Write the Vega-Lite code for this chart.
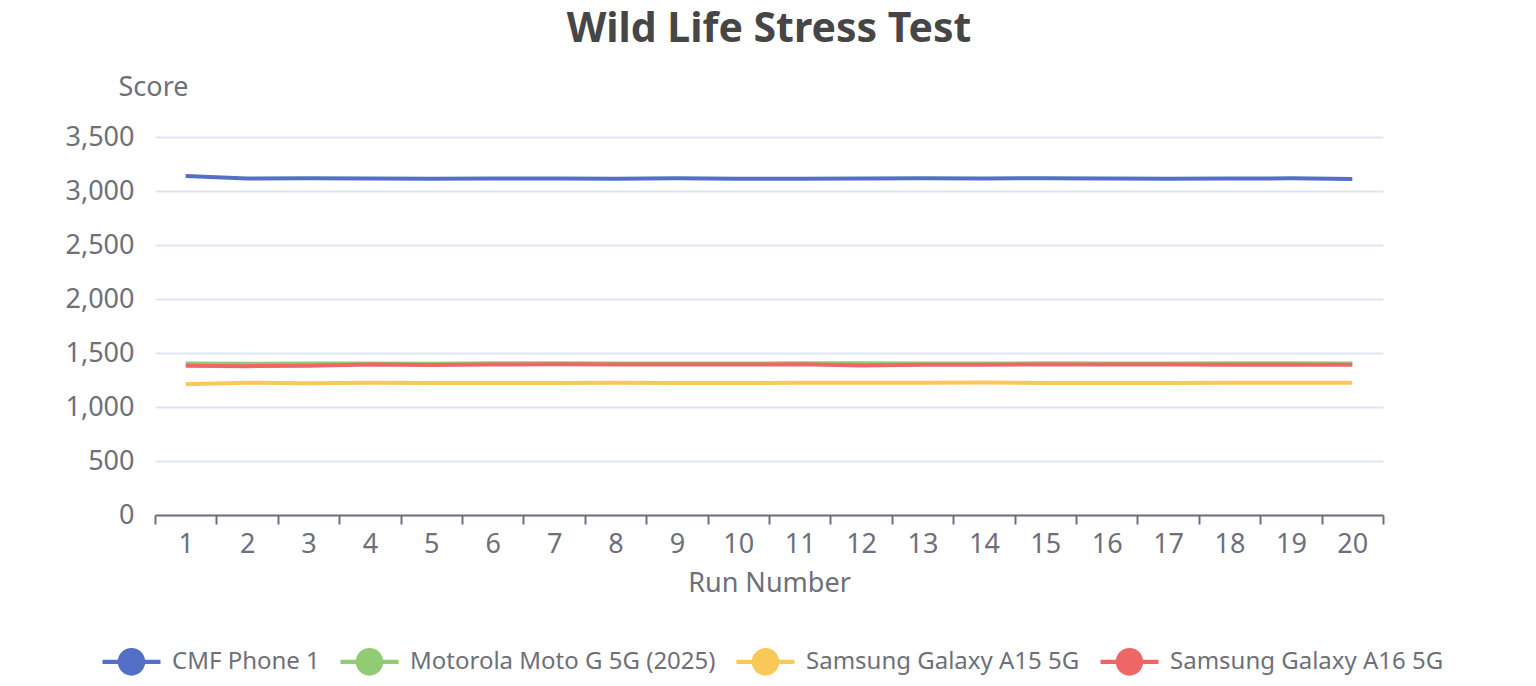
{
  "$schema": "https://vega.github.io/schema/vega-lite/v6.json",
  "description": "Wild Life Stress Test scores per run",
  "autosize": {"type": "none"},
  "padding": {"left": 155, "top": 137, "right": 153, "bottom": 171},
  "width": 1228,
  "height": 378,
  "background": "white",
  "view": {"stroke": null},
  "title": {
    "text": "Wild Life Stress Test",
    "font": "Noto Sans",
    "fontSize": 41,
    "fontWeight": "bold",
    "color": "#464646",
    "anchor": "middle",
    "offset": 22
  },
  "data": {
    "values": [
      {"run": 1, "phone": "CMF Phone 1", "score": 3138},
      {"run": 2, "phone": "CMF Phone 1", "score": 3115},
      {"run": 3, "phone": "CMF Phone 1", "score": 3118},
      {"run": 4, "phone": "CMF Phone 1", "score": 3116},
      {"run": 5, "phone": "CMF Phone 1", "score": 3114},
      {"run": 6, "phone": "CMF Phone 1", "score": 3116},
      {"run": 7, "phone": "CMF Phone 1", "score": 3115},
      {"run": 8, "phone": "CMF Phone 1", "score": 3113},
      {"run": 9, "phone": "CMF Phone 1", "score": 3119},
      {"run": 10, "phone": "CMF Phone 1", "score": 3113},
      {"run": 11, "phone": "CMF Phone 1", "score": 3113},
      {"run": 12, "phone": "CMF Phone 1", "score": 3116},
      {"run": 13, "phone": "CMF Phone 1", "score": 3117},
      {"run": 14, "phone": "CMF Phone 1", "score": 3116},
      {"run": 15, "phone": "CMF Phone 1", "score": 3118},
      {"run": 16, "phone": "CMF Phone 1", "score": 3115},
      {"run": 17, "phone": "CMF Phone 1", "score": 3114},
      {"run": 18, "phone": "CMF Phone 1", "score": 3115},
      {"run": 19, "phone": "CMF Phone 1", "score": 3117},
      {"run": 20, "phone": "CMF Phone 1", "score": 3112},
      {"run": 1, "phone": "Motorola Moto G 5G (2025)", "score": 1402},
      {"run": 2, "phone": "Motorola Moto G 5G (2025)", "score": 1401},
      {"run": 3, "phone": "Motorola Moto G 5G (2025)", "score": 1402},
      {"run": 4, "phone": "Motorola Moto G 5G (2025)", "score": 1403},
      {"run": 5, "phone": "Motorola Moto G 5G (2025)", "score": 1400},
      {"run": 6, "phone": "Motorola Moto G 5G (2025)", "score": 1404},
      {"run": 7, "phone": "Motorola Moto G 5G (2025)", "score": 1404},
      {"run": 8, "phone": "Motorola Moto G 5G (2025)", "score": 1403},
      {"run": 9, "phone": "Motorola Moto G 5G (2025)", "score": 1402},
      {"run": 10, "phone": "Motorola Moto G 5G (2025)", "score": 1403},
      {"run": 11, "phone": "Motorola Moto G 5G (2025)", "score": 1404},
      {"run": 12, "phone": "Motorola Moto G 5G (2025)", "score": 1404},
      {"run": 13, "phone": "Motorola Moto G 5G (2025)", "score": 1403},
      {"run": 14, "phone": "Motorola Moto G 5G (2025)", "score": 1402},
      {"run": 15, "phone": "Motorola Moto G 5G (2025)", "score": 1404},
      {"run": 16, "phone": "Motorola Moto G 5G (2025)", "score": 1403},
      {"run": 17, "phone": "Motorola Moto G 5G (2025)", "score": 1402},
      {"run": 18, "phone": "Motorola Moto G 5G (2025)", "score": 1404},
      {"run": 19, "phone": "Motorola Moto G 5G (2025)", "score": 1404},
      {"run": 20, "phone": "Motorola Moto G 5G (2025)", "score": 1403},
      {"run": 1, "phone": "Samsung Galaxy A15 5G", "score": 1210},
      {"run": 2, "phone": "Samsung Galaxy A15 5G", "score": 1224},
      {"run": 3, "phone": "Samsung Galaxy A15 5G", "score": 1221},
      {"run": 4, "phone": "Samsung Galaxy A15 5G", "score": 1224},
      {"run": 5, "phone": "Samsung Galaxy A15 5G", "score": 1222},
      {"run": 6, "phone": "Samsung Galaxy A15 5G", "score": 1222},
      {"run": 7, "phone": "Samsung Galaxy A15 5G", "score": 1223},
      {"run": 8, "phone": "Samsung Galaxy A15 5G", "score": 1224},
      {"run": 9, "phone": "Samsung Galaxy A15 5G", "score": 1223},
      {"run": 10, "phone": "Samsung Galaxy A15 5G", "score": 1222},
      {"run": 11, "phone": "Samsung Galaxy A15 5G", "score": 1224},
      {"run": 12, "phone": "Samsung Galaxy A15 5G", "score": 1224},
      {"run": 13, "phone": "Samsung Galaxy A15 5G", "score": 1224},
      {"run": 14, "phone": "Samsung Galaxy A15 5G", "score": 1226},
      {"run": 15, "phone": "Samsung Galaxy A15 5G", "score": 1223},
      {"run": 16, "phone": "Samsung Galaxy A15 5G", "score": 1222},
      {"run": 17, "phone": "Samsung Galaxy A15 5G", "score": 1223},
      {"run": 18, "phone": "Samsung Galaxy A15 5G", "score": 1225},
      {"run": 19, "phone": "Samsung Galaxy A15 5G", "score": 1224},
      {"run": 20, "phone": "Samsung Galaxy A15 5G", "score": 1224},
      {"run": 1, "phone": "Samsung Galaxy A16 5G", "score": 1383},
      {"run": 2, "phone": "Samsung Galaxy A16 5G", "score": 1378},
      {"run": 3, "phone": "Samsung Galaxy A16 5G", "score": 1383},
      {"run": 4, "phone": "Samsung Galaxy A16 5G", "score": 1394},
      {"run": 5, "phone": "Samsung Galaxy A16 5G", "score": 1388},
      {"run": 6, "phone": "Samsung Galaxy A16 5G", "score": 1394},
      {"run": 7, "phone": "Samsung Galaxy A16 5G", "score": 1395},
      {"run": 8, "phone": "Samsung Galaxy A16 5G", "score": 1393},
      {"run": 9, "phone": "Samsung Galaxy A16 5G", "score": 1393},
      {"run": 10, "phone": "Samsung Galaxy A16 5G", "score": 1393},
      {"run": 11, "phone": "Samsung Galaxy A16 5G", "score": 1396},
      {"run": 12, "phone": "Samsung Galaxy A16 5G", "score": 1384},
      {"run": 13, "phone": "Samsung Galaxy A16 5G", "score": 1391},
      {"run": 14, "phone": "Samsung Galaxy A16 5G", "score": 1392},
      {"run": 15, "phone": "Samsung Galaxy A16 5G", "score": 1394},
      {"run": 16, "phone": "Samsung Galaxy A16 5G", "score": 1394},
      {"run": 17, "phone": "Samsung Galaxy A16 5G", "score": 1393},
      {"run": 18, "phone": "Samsung Galaxy A16 5G", "score": 1392},
      {"run": 19, "phone": "Samsung Galaxy A16 5G", "score": 1392},
      {"run": 20, "phone": "Samsung Galaxy A16 5G", "score": 1392}
    ]
  },
  "mark": {"type": "line", "strokeWidth": 4},
  "encoding": {
    "x": {
      "field": "run",
      "type": "ordinal",
      "title": "Run Number",
      "scale": {"type": "band", "paddingInner": 0, "paddingOuter": 0},
      "axis": {
        "labelAngle": 0,
        "tickBand": "extent",
        "domainColor": "#6E7079",
        "domainWidth": 2,
        "tickColor": "#6E7079",
        "tickWidth": 2,
        "tickSize": 9,
        "labelColor": "#6E7079",
        "labelFont": "Noto Sans",
        "labelFontSize": 27,
        "labelPadding": 7,
        "titleColor": "#6E7079",
        "titleFont": "Noto Sans",
        "titleFontSize": 27,
        "titleFontWeight": "normal",
        "titlePadding": 13
      }
    },
    "y": {
      "field": "score",
      "type": "quantitative",
      "title": "Score",
      "scale": {"domain": [0, 3500], "nice": false},
      "axis": {
        "values": [0, 500, 1000, 1500, 2000, 2500, 3000, 3500],
        "format": ",.0f",
        "domain": false,
        "ticks": false,
        "gridColor": "#E0E6F1",
        "gridWidth": 2,
        "labelColor": "#6E7079",
        "labelFont": "Noto Sans",
        "labelFontSize": 27,
        "labelPadding": 21,
        "titleColor": "#6E7079",
        "titleFont": "Noto Sans",
        "titleFontSize": 27,
        "titleFontWeight": "normal",
        "titleAngle": 0,
        "titleAlign": "center",
        "titleBaseline": "middle",
        "titleX": -2,
        "titleY": -50
      }
    },
    "color": {
      "field": "phone",
      "type": "nominal",
      "title": null,
      "scale": {
        "domain": ["CMF Phone 1", "Motorola Moto G 5G (2025)", "Samsung Galaxy A15 5G", "Samsung Galaxy A16 5G"],
        "range": ["#5470C6", "#91CC75", "#FAC858", "#EE6666"]
      },
      "legend": {
        "orient": "none",
        "legendX": -38,
        "legendY": 510,
        "direction": "horizontal",
        "symbolType": "M-2,-0.14L2,-0.14L2,0.14L-2,0.14Z M0.95,0A0.95,0.95 0 1,1 -0.95,0A0.95,0.95 0 1,1 0.95,0Z",
        "symbolSize": 841,
        "symbolStrokeWidth": 0,
        "labelFont": "Noto Sans",
        "labelFontSize": 24,
        "labelColor": "#6E7079",
        "labelOffset": 26,
        "labelLimit": 0,
        "columnPadding": 20,
        "encode": {
          "symbols": {
            "update": {
              "fill": {"scale": "color", "field": "value"},
              "fillOpacity": {"value": 1},
              "strokeWidth": {"value": 0}
            }
          }
        }
      }
    }
  }
}
